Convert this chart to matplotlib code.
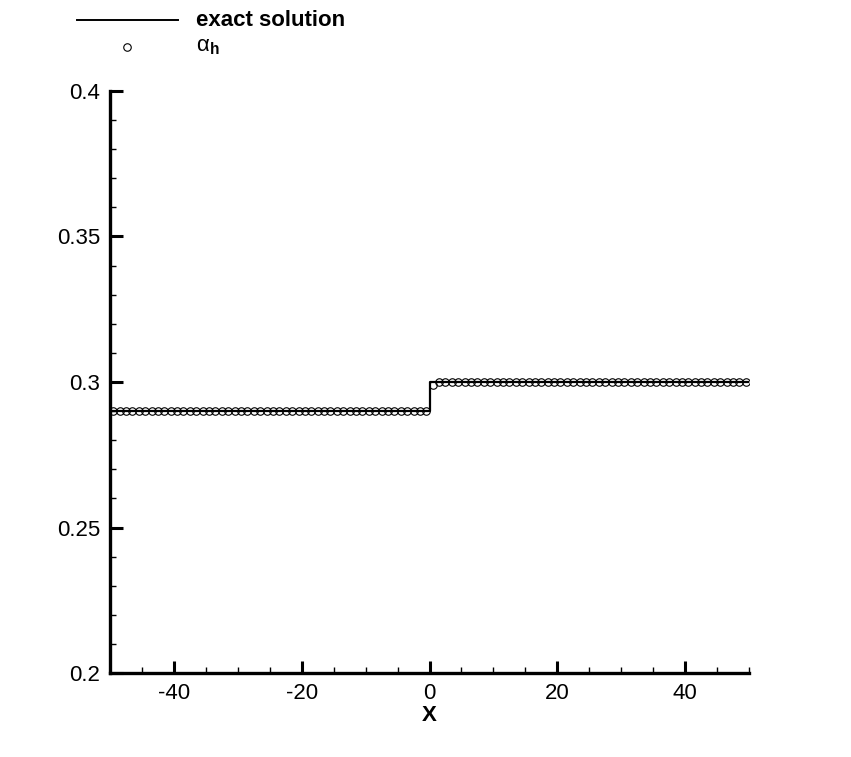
"""Exact solution vs. numerical alpha_h for a step profile."""

import numpy as np
import matplotlib

matplotlib.use("Agg")
import matplotlib.pyplot as plt
from matplotlib.lines import Line2D
from matplotlib.ticker import MultipleLocator

plt.rcParams["font.family"] = ["Liberation Sans", "DejaVu Sans"]
plt.rcParams["axes.unicode_minus"] = False
plt.rcParams["mathtext.fontset"] = "custom"
plt.rcParams["mathtext.rm"] = "Liberation Sans"
plt.rcParams["mathtext.it"] = "Liberation Sans:italic"
plt.rcParams["mathtext.bf"] = "Liberation Sans:bold"

# exact solution: step at x = 0
exact_x = [-50.0, 0.0, 0.0, 50.0]
exact_y = [0.29, 0.29, 0.30, 0.30]

# numerical solution at cell centres (100 cells on [-50, 50])
cell_x = np.arange(-49.5, 50.0, 1.0)
alpha_h = [0.29] * 50 + [0.299] + [0.30] * 49

W, H = 851, 757
fig = plt.figure(figsize=(W / 100, H / 100), dpi=100)
ax = fig.add_axes([110 / W, 1 - 673 / H, (749 - 110) / W, (673 - 91) / H])

ax.plot(exact_x, exact_y, color="black", lw=1.6, zorder=2)
ax.plot(cell_x, alpha_h, ls="none", marker="o", ms=5.4, mfc="none",
        mec="black", mew=0.8, zorder=3)

ax.set_xlim(-50, 50)
ax.set_ylim(0.2, 0.4)
ax.xaxis.set_major_locator(MultipleLocator(20))
ax.xaxis.set_minor_locator(MultipleLocator(5))
ax.yaxis.set_major_locator(MultipleLocator(0.05))
ax.yaxis.set_minor_locator(MultipleLocator(0.01))
ax.yaxis.set_major_formatter(plt.FuncFormatter(lambda v, _: f"{v:g}"))

for side in ("top", "right"):
    ax.spines[side].set_visible(False)
for side in ("left", "bottom"):
    ax.spines[side].set_linewidth(2.4)

ax.tick_params(which="major", direction="in", length=9, width=2.2,
               labelsize=16, pad=7)
ax.tick_params(which="minor", direction="in", length=4.5, width=1.0)
ax.set_xlabel("X", fontsize=16, fontweight="bold", labelpad=1)

# legend drawn by hand at the top left
fig.add_artist(Line2D([77 / W, 178 / W], [1 - 20 / H, 1 - 20 / H],
                      color="black", lw=1.4))
fig.add_artist(Line2D([127 / W], [1 - 47 / H], ls="none", marker="o",
                      ms=5.4, mfc="none", mec="black", mew=0.8))
fig.text(196 / W, 1 - 20 / H, "exact solution", fontsize=16,
         fontweight="bold", va="center", ha="left")
fig.text(196 / W, 1 - 47 / H, r"$\mathrm{\alpha}_{\mathbf{h}}$", fontsize=16,
         va="center", ha="left")

fig.savefig("out.png", dpi=100)
